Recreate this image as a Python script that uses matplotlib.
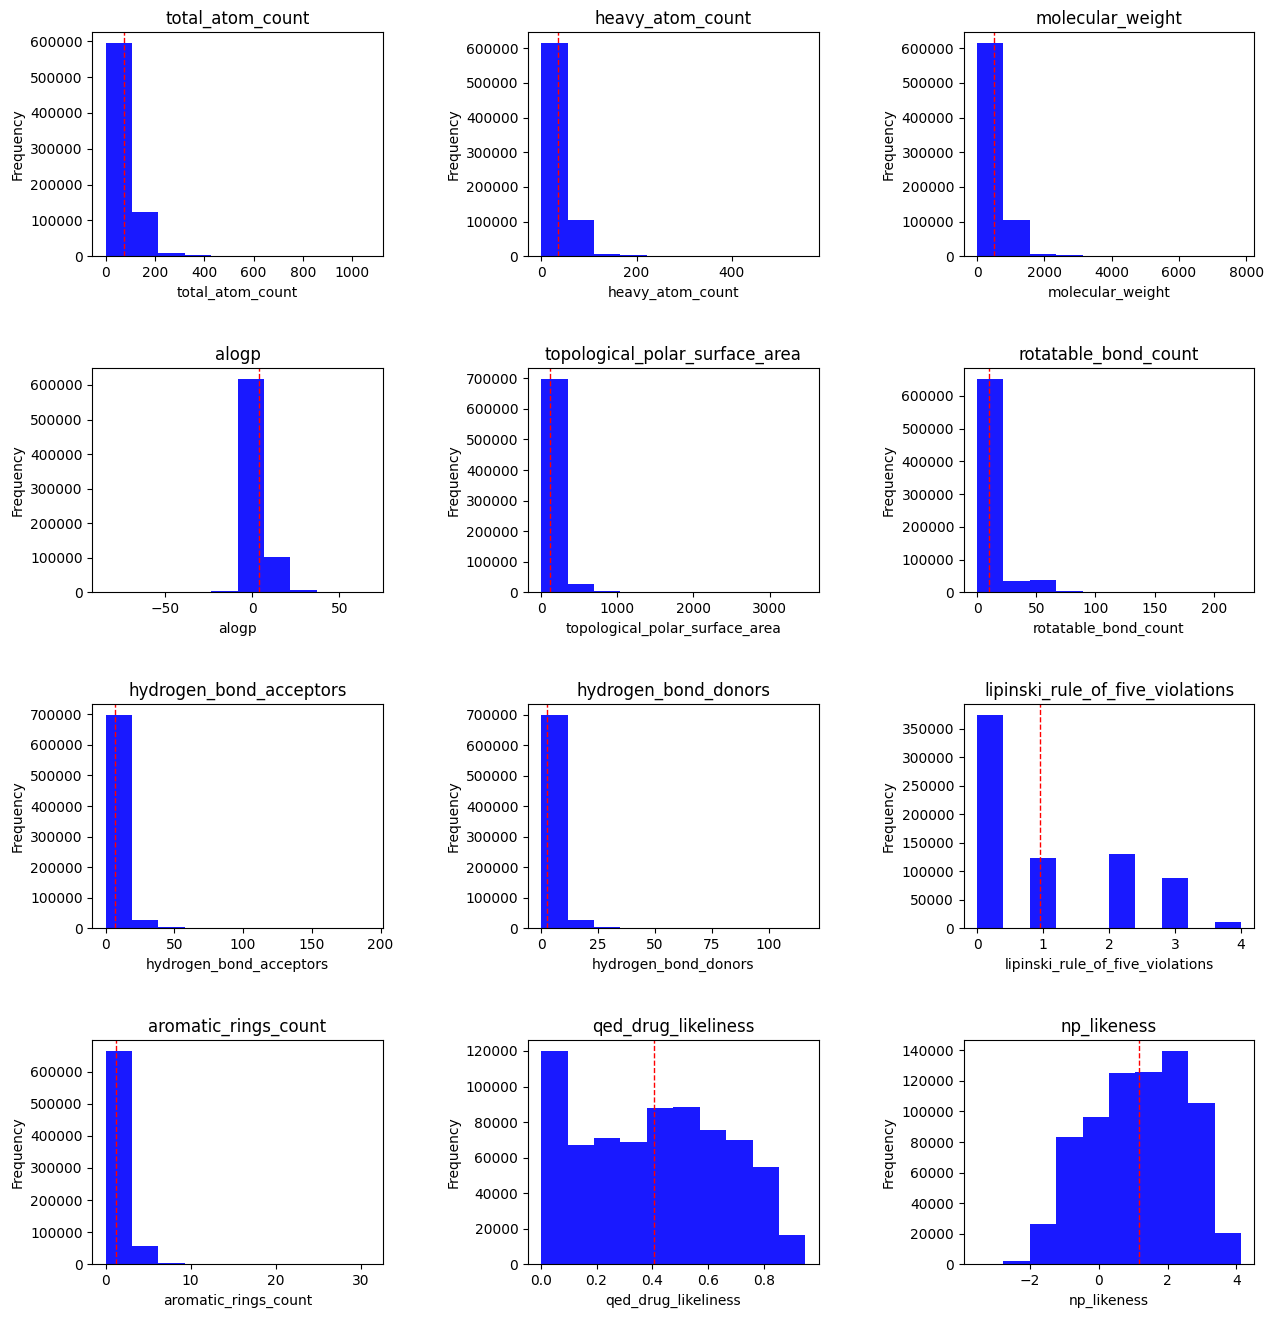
import numpy as np
import matplotlib
matplotlib.use("Agg")
import matplotlib.pyplot as plt

# Column names (subplot titles / x labels)
columns = [
    "total_atom_count", "heavy_atom_count", "molecular_weight",
    "alogp", "topological_polar_surface_area", "rotatable_bond_count",
    "hydrogen_bond_acceptors", "hydrogen_bond_donors", "lipinski_rule_of_five_violations",
    "aromatic_rings_count", "qed_drug_likeliness", "np_likeness",
]

# Data range (min, max) of each column -> 10 equal bins
range_total_atom_count = (0, 1070)
range_heavy_atom_count = (0, 554)
range_molecular_weight = (0, 7850)
range_alogp = (-83.9, 67.3)
range_tpsa = (0, 3470)
range_rotatable_bond_count = (0, 223)
range_hba = (0, 192)
range_hbd = (0, 116)
range_lipinski = (0, 4)
range_aromatic_rings = (0, 31)
range_qed = (0.002, 0.948)
range_np_likeness = (-3.54, 4.14)

# Bin counts (10 bins each)
counts_total_atom_count = [595400, 123300, 8300, 2800, 500, 150, 50, 20, 5, 2]
counts_heavy_atom_count = [615300, 104300, 6700, 2900, 400, 100, 30, 10, 3, 1]
counts_molecular_weight = [615300, 104300, 6700, 2900, 400, 100, 30, 10, 3, 1]
counts_alogp = [1, 2, 5, 50, 2900, 617300, 101900, 6700, 300, 10]
counts_tpsa = [697800, 27200, 3000, 2500, 300, 80, 20, 8, 3, 1]
counts_rotatable_bond_count = [651500, 34600, 37600, 3000, 500, 100, 30, 10, 5, 2]
counts_hba = [697800, 27200, 3300, 400, 80, 20, 8, 3, 1, 1]
counts_hbd = [698900, 27200, 3300, 2000, 200, 50, 10, 4, 2, 1]
counts_lipinski = [373800, 0, 122700, 0, 0, 130800, 0, 87800, 0, 11000]
counts_aromatic_rings = [664000, 57100, 4100, 1500, 200, 50, 10, 5, 2, 1]
counts_qed = [120000, 67370, 71290, 69050, 88090, 88650, 75770, 70170, 54490, 16420]
counts_np_likeness = [100, 2170, 26260, 83570, 96590, 125240, 125890, 139570, 105710, 20400]

# Column means (red dashed line)
means = [75.6, 35.0, 516.0, 4.0, 114.0, 9.9, 6.8, 2.65, 0.957, 1.21, 0.407, 1.176]

ranges = [range_total_atom_count, range_heavy_atom_count, range_molecular_weight,
          range_alogp, range_tpsa, range_rotatable_bond_count,
          range_hba, range_hbd, range_lipinski,
          range_aromatic_rings, range_qed, range_np_likeness]
counts = [counts_total_atom_count, counts_heavy_atom_count, counts_molecular_weight,
          counts_alogp, counts_tpsa, counts_rotatable_bond_count,
          counts_hba, counts_hbd, counts_lipinski,
          counts_aromatic_rings, counts_qed, counts_np_likeness]

fig, axes = plt.subplots(4, 3, figsize=(12.73, 13.17), dpi=100)
fig.subplots_adjust(left=92.3 / 1273, right=1254.3 / 1273,
                    top=1 - 32.3 / 1317, bottom=1 - 1264.3 / 1317,
                    wspace=0.5, hspace=0.5)

for ax, name, rng, cnt, mu in zip(axes.flat, columns, ranges, counts, means):
    edges = np.linspace(rng[0], rng[1], 11)
    centers = (edges[:-1] + edges[1:]) / 2
    ax.hist(centers, bins=edges, weights=cnt, color="blue", alpha=0.9)
    ax.axvline(mu, color="red", linestyle="dashed", linewidth=1)
    ax.set_title(name)
    ax.set_xlabel(name)
    ax.set_ylabel("Frequency")

fig.savefig("out.png", dpi=100)
